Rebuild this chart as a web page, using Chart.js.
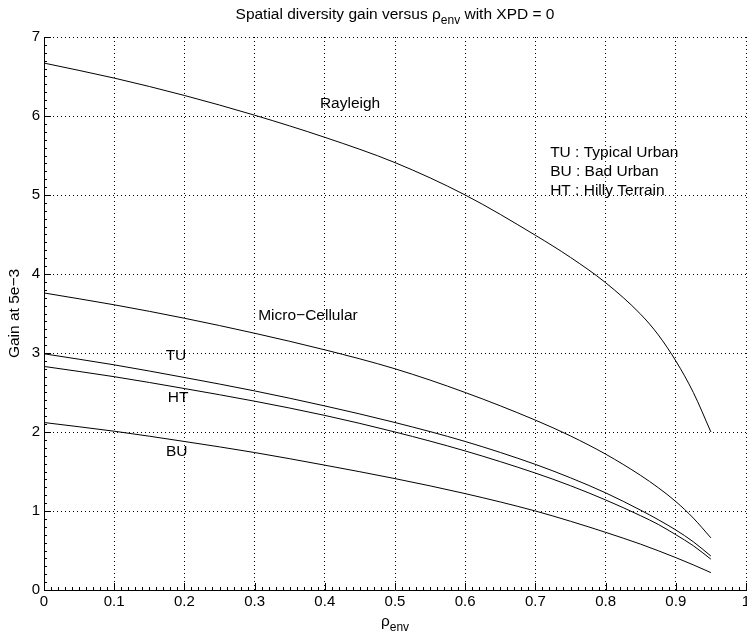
<!DOCTYPE html>
<html>
<head>
<meta charset="utf-8">
<script src="https://cdn.jsdelivr.net/npm/chart.js@4/dist/chart.umd.min.js"></script>
<style>
  html, body { margin: 0; padding: 0; background: #fff; }
  #wrap { width: 747px; height: 638px; position: relative; }
</style>
</head>
<body>
<div id="wrap"><canvas id="chartGain"></canvas></div>
<script>
// valores
const rho = [0, 0.1, 0.2, 0.3, 0.4, 0.5, 0.6, 0.7, 0.75, 0.8, 0.85, 0.875, 0.9, 0.925, 0.95];
const rayleigh = [6.67, 6.48, 6.26, 6.01, 5.73, 5.41, 5.00, 4.49, 4.21, 3.89, 3.49, 3.23, 2.90, 2.50, 2.00];
const microCellular = [3.76, 3.61, 3.44, 3.25, 3.04, 2.80, 2.50, 2.15, 1.95, 1.72, 1.45, 1.295, 1.12, 0.91, 0.66];
const tu = [2.99, 2.85, 2.69, 2.52, 2.33, 2.12, 1.88, 1.59, 1.42, 1.23, 1.01, 0.89, 0.76, 0.61, 0.43];
const ht = [2.83, 2.70, 2.55, 2.39, 2.21, 2.00, 1.76, 1.48, 1.32, 1.14, 0.94, 0.83, 0.70, 0.56, 0.39];
const bu = [2.12, 2.01, 1.88, 1.74, 1.58, 1.41, 1.22, 1.00, 0.87, 0.73, 0.58, 0.497, 0.41, 0.318, 0.22];
const xTicks = [0, 0.1, 0.2, 0.3, 0.4, 0.5, 0.6, 0.7, 0.8, 0.9, 1];
const yTicks = [0, 1, 2, 3, 4, 5, 6, 7];
const curveLabels = ['Rayleigh', 'Micro\u2212Cellular', 'TU', 'HT', 'BU'];
const legendLines = ['TU : Typical Urban', 'BU : Bad Urban', 'HT : Hilly Terrain'];

const FONT = '"Liberation Sans", Arial, Helvetica, sans-serif';
const TXT = '15.5px ' + FONT;
const SUB = '12px ' + FONT;

function serie(vals) {
    return rho.map((r, i) => ({ x: r, y: vals[i] }));
}

function linea(vals) {
    return {
        data: serie(vals),
        borderColor: '#000',
        borderWidth: 1,
        pointRadius: 0,
        fill: false,
        cubicInterpolationMode: 'monotone'
    };
}

// texto con subindice
function textoSub(ctx, partes, x, y) {
    let ancho = 0;
    partes.forEach(p => {
        ctx.font = p.sub ? SUB : TXT;
        ancho += ctx.measureText(p.t).width;
    });
    let cx = x - ancho / 2;
    ctx.textAlign = 'left';
    ctx.textBaseline = 'alphabetic';
    partes.forEach(p => {
        ctx.font = p.sub ? SUB : TXT;
        ctx.fillText(p.t, cx, p.sub ? y + 5 : y);
        cx += ctx.measureText(p.t).width;
    });
}

const extras = {
    id: 'extras',
    afterDraw(chart) {
        const ctx = chart.ctx;
        const xs = chart.scales.x, ys = chart.scales.y;
        const area = chart.chartArea;
        ctx.save();
        ctx.fillStyle = '#000';
        ctx.strokeStyle = '#000';
        ctx.lineWidth = 1;

        // marcas hacia dentro
        ctx.beginPath();
        for (let i = 0; i <= 100; i++) {
            const px = Math.round(xs.getPixelForValue(i / 100)) + 0.5;
            const len = i % 10 === 0 ? 7 : 3;
            ctx.moveTo(px, area.bottom);
            ctx.lineTo(px, area.bottom - len);
        }
        for (let i = 0; i <= 70; i++) {
            const py = Math.round(ys.getPixelForValue(i / 10)) + 0.5;
            const len = i % 10 === 0 ? 7 : 3;
            ctx.moveTo(area.left, py);
            ctx.lineTo(area.left + len, py);
        }
        ctx.stroke();

        // titulo y ejes
        const cx = (area.left + area.right) / 2;
        textoSub(ctx, [{ t: 'Spatial diversity gain versus \u03c1' }, { t: 'env', sub: true }, { t: ' with XPD = 0' }], cx, 19);
        textoSub(ctx, [{ t: '\u03c1' }, { t: 'env', sub: true }], cx, 626);
        ctx.save();
        ctx.translate(15, (area.top + area.bottom) / 2);
        ctx.rotate(-Math.PI / 2);
        ctx.font = TXT;
        ctx.textAlign = 'center';
        ctx.textBaseline = 'middle';
        ctx.fillText('Gain at 5e\u22123', 0, 0);
        ctx.restore();

        // etiquetas de curvas
        const pos = [[0.436, 6.16], [0.376, 3.47], [0.188, 2.96], [0.191, 2.43], [0.189, 1.75]];
        ctx.font = TXT;
        ctx.textAlign = 'center';
        ctx.textBaseline = 'middle';
        curveLabels.forEach((t, i) => {
            ctx.fillText(t, xs.getPixelForValue(pos[i][0]), ys.getPixelForValue(pos[i][1]));
        });
        ctx.textAlign = 'left';
        const ly = [5.53, 5.29, 5.06];
        legendLines.forEach((t, i) => {
            ctx.fillText(t, xs.getPixelForValue(0.721), ys.getPixelForValue(ly[i]));
        });
        ctx.restore();
    }
};

new Chart(document.getElementById('chartGain'), {
    type: 'line',
    data: {
        datasets: [linea(rayleigh), linea(microCellular), linea(tu), linea(ht), linea(bu)]
    },
    options: {
        responsive: true,
        maintainAspectRatio: false,
        animation: false,
        layout: { padding: { top: 37, right: 1, left: 0, bottom: 0 } },
        plugins: { legend: { display: false }, tooltip: { enabled: false } },
        scales: {
            x: {
                type: 'linear',
                min: 0, max: 1,
                afterFit: s => { s.height = 48; s.paddingLeft = 0; s.paddingRight = 0; },
                afterBuildTicks: s => { s.ticks = xTicks.map(v => ({ value: v })); },
                ticks: { color: '#000', font: { size: 15, family: FONT }, padding: 3, maxRotation: 0,
                         callback: v => String(v) },
                grid: { color: '#000', lineWidth: 1, drawTicks: false },
                border: { display: true, color: '#000', width: 1, dash: [1, 3] }
            },
            y: {
                min: 0, max: 7,
                afterFit: s => { s.width = 44; s.paddingTop = 0; s.paddingBottom = 0; },
                afterBuildTicks: s => { s.ticks = yTicks.map(v => ({ value: v })); },
                ticks: { color: '#000', font: { size: 15, family: FONT }, padding: 4 },
                grid: { color: '#000', lineWidth: 1, drawTicks: false },
                border: { display: true, color: '#000', width: 1, dash: [1, 3] }
            }
        }
    },
    plugins: [extras]
});
</script>
</body>
</html>
